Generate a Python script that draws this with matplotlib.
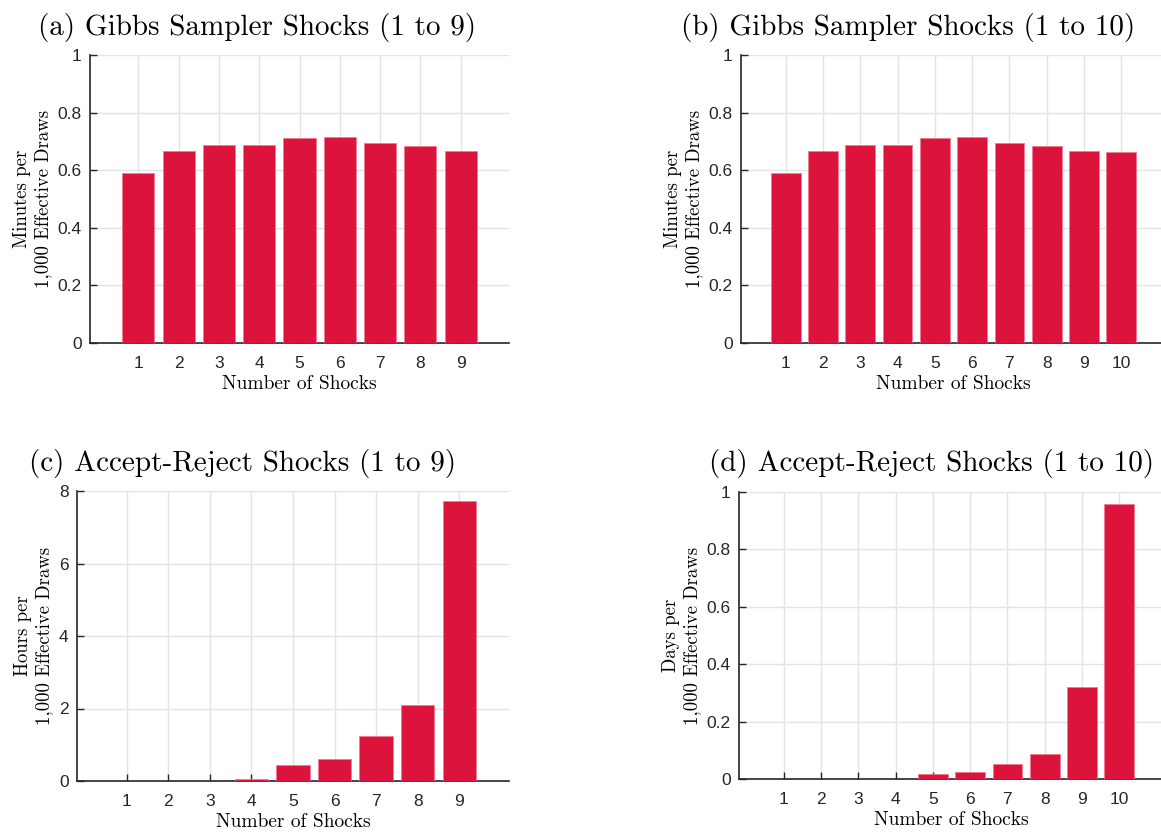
import matplotlib
matplotlib.use("Agg")
from matplotlib import pyplot as plt

# Tempos por 1.000 draws efetivos
shocks_9 = [1, 2, 3, 4, 5, 6, 7, 8, 9]
shocks_10 = [1, 2, 3, 4, 5, 6, 7, 8, 9, 10]

gibbs_9 = [0.589, 0.667, 0.688, 0.689, 0.713, 0.715, 0.695, 0.683, 0.667]
gibbs_10 = [0.589, 0.667, 0.688, 0.689, 0.713, 0.715, 0.695, 0.683, 0.667, 0.663]
ar_9 = [0.001, 0.003, 0.008, 0.046, 0.45, 0.60, 1.24, 2.09, 7.72]
ar_10 = [0.0, 0.0, 0.0, 0.001, 0.0185, 0.025, 0.052, 0.088, 0.322, 0.958]

titulos = [
    "(a) Gibbs Sampler Shocks (1 to 9)",
    "(b) Gibbs Sampler Shocks (1 to 10)",
    "(c) Accept-Reject Shocks (1 to 9)",
    "(d) Accept-Reject Shocks (1 to 10)",
]
ylabels = [
    "Minutes per\n1,000 Effective Draws",
    "Minutes per\n1,000 Effective Draws",
    "Hours per\n1,000 Effective Draws",
    "Days per\n1,000 Effective Draws",
]

COR = "#dc143c"
SERIF = "cmr10"
SANS = "Liberation Sans"
plt.rcParams["axes.formatter.use_mathtext"] = True

W, H = 1161, 832


def draw_panel(fig, rect, x, y, titulo, tpos, ylabel, ymax, ystep, xmax):
    ax = fig.add_axes(rect)
    ax.bar(x, y, width=0.8, color=COR, edgecolor="#f07a90", linewidth=0.6, zorder=3)
    ax.set_xlim(-0.2, xmax)
    ax.set_ylim(0, ymax)
    ticks = [i * ystep for i in range(int(round(ymax / ystep)) + 1)]
    ax.set_yticks(ticks)
    ax.set_yticklabels(["%g" % t for t in ticks], fontfamily=SANS, fontsize=12.5)
    ax.set_xticks(x)
    ax.set_xticklabels([str(v) for v in x], fontfamily=SANS, fontsize=12.5)
    ax.grid(True, color="#e3e3e3", linewidth=1.0, zorder=0)
    ax.set_axisbelow(True)
    for lado in ["top", "right"]:
        ax.spines[lado].set_visible(False)
    for lado in ["left", "bottom"]:
        ax.spines[lado].set_color("#262626")
        ax.spines[lado].set_linewidth(1.2)
    ax.tick_params(direction="in", length=5, width=1, colors="#262626")
    ax.tick_params(axis="x", pad=9)
    ax.tick_params(axis="y", pad=6)
    fig.text(tpos[0] / W, 1 - tpos[1] / H, titulo, fontfamily=SERIF, fontsize=21,
             ha="center", va="center")
    ax.set_ylabel(ylabel, fontfamily=SERIF, fontsize=13.5, labelpad=4, linespacing=1.25)
    ax.set_xlabel("Number of Shocks", fontfamily=SERIF, fontsize=14, labelpad=3)
    return ax


fig = plt.figure(figsize=(W / 100, H / 100), dpi=100)


def r(l, t, rgt, b):
    return [l / W, 1 - b / H, (rgt - l) / W, (b - t) / H]


draw_panel(fig, r(90, 55, 509, 343), shocks_9, gibbs_9, titulos[0], (257, 27),
           ylabels[0], 1.0, 0.2, 10.2)
draw_panel(fig, r(741, 55, 1166, 343), shocks_10, gibbs_10, titulos[1], (908, 27),
           ylabels[1], 1.0, 0.2, 11.2)
draw_panel(fig, r(77, 491, 509, 781), shocks_9, ar_9, titulos[2], (243, 463),
           ylabels[2], 8, 2, 10.2)
draw_panel(fig, r(739, 492, 1164, 779), shocks_10, ar_10, titulos[3], (932, 463),
           ylabels[3], 1.0, 0.2, 11.2)

fig.savefig("out.png", dpi=100)
